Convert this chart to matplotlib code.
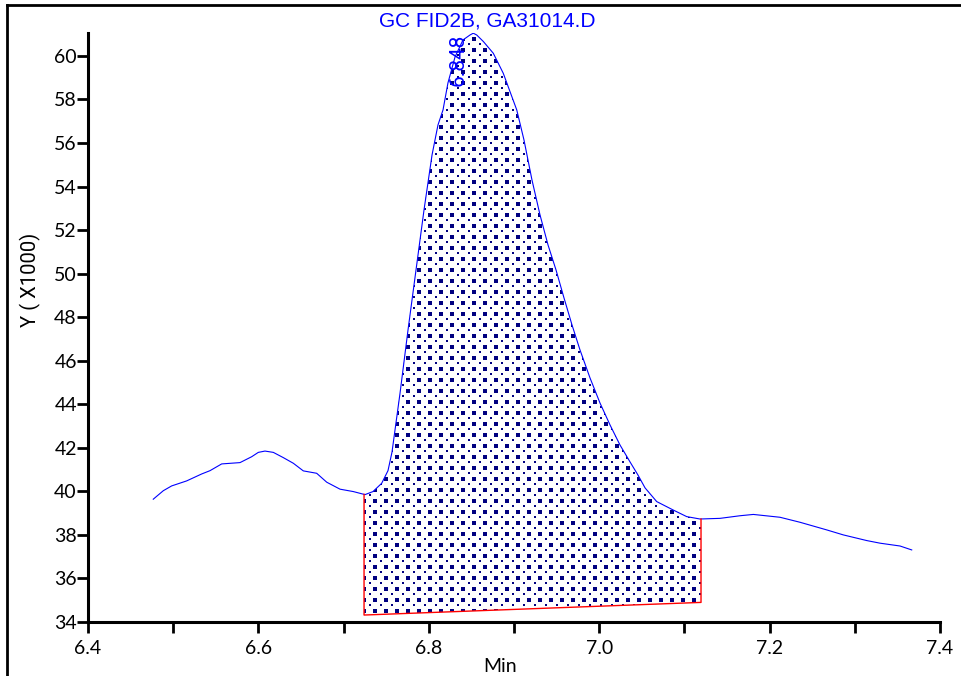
import matplotlib
matplotlib.use("Agg")
import matplotlib.pyplot as plt
from matplotlib.lines import Line2D
import numpy as np

# chromatogram trace (minutes, signal x1000)
time_min = [6.4766, 6.4884, 6.4982, 6.5158, 6.5335, 6.5432, 6.5569, 6.5784, 6.5921,
            6.5999, 6.6077, 6.6175, 6.6292, 6.6410, 6.6527, 6.6684, 6.6802, 6.6958,
            6.7114, 6.7251, 6.7345, 6.7447, 6.7521, 6.7568, 6.7662, 6.7756, 6.7850,
            6.7944, 6.8038, 6.8108, 6.8167, 6.8225, 6.8308, 6.8401, 6.8484, 6.8522,
            6.8562, 6.8640, 6.8757, 6.8874, 6.9032, 6.9117, 6.9211, 6.9305, 6.9399,
            6.9493, 6.9587, 6.9681, 6.9775, 6.9892, 7.0009, 7.0127, 7.0244, 7.0362,
            7.0455, 7.0538, 7.0675, 7.0870, 7.1027, 7.1183, 7.1418, 7.1653, 7.1809,
            7.2122, 7.2357, 7.2670, 7.2865, 7.3140, 7.3296, 7.3531, 7.3668]
signal = [39.64, 40.03, 40.25, 40.48, 40.80, 40.95, 41.26, 41.32, 41.59,
          41.79, 41.85, 41.79, 41.55, 41.29, 40.94, 40.83, 40.42, 40.10,
          39.99, 39.85, 39.99, 40.37, 40.95, 41.80, 44.50, 47.41, 50.17,
          52.93, 55.45, 56.83, 57.52, 58.76, 59.95, 60.73, 60.96, 61.04,
          60.96, 60.66, 60.12, 59.20, 57.52, 56.14, 54.30, 52.70, 51.32,
          50.17, 48.88, 47.64, 46.49, 45.21, 44.06, 43.05, 42.13, 41.35,
          40.75, 40.16, 39.53, 39.14, 38.84, 38.73, 38.76, 38.88, 38.94,
          38.81, 38.58, 38.23, 38.00, 37.74, 37.62, 37.49, 37.31]

# integration window and baseline
peak_start, peak_end = 6.724, 7.1195
base_start, base_end = 34.32, 34.90
peak_rt = "6.848"
peak_rt_val = 6.848

title = "GC FID2B, GA31014.D"
plt.rcParams["font.family"] = ["Lato", "DejaVu Sans"]
label_font = ["Roboto", "DejaVu Sans"]

W, H = 961, 676
fig = plt.figure(figsize=(W / 100, H / 100), dpi=100)
ax = fig.add_axes([88 / W, 1 - 622 / H, (940 - 88) / W, (622 - 33) / H])

t = np.array(time_min)
s = np.array(signal)
ax.plot(t, s, color="#0000ff", lw=0.8)

# area under peak
inside = (t > peak_start) & (t < peak_end)
xs = np.concatenate([[peak_start], t[inside], [peak_end]])
ys = np.interp(xs, t, s)
bs = np.interp(xs, [peak_start, peak_end], [base_start, base_end])
poly = ax.fill_between(xs, bs, ys, facecolor="none", edgecolor="none")

ax.plot([peak_start, peak_start, peak_end, peak_end],
        [ys[0], base_start, base_end, ys[-1]], color="#ff0000", lw=1.0)

ax.set_xlim(6.4, 7.4)
ax.set_ylim(34, 61.05)

# dotted shading: staggered grid of small squares clipped to the area,
# snapped to pixels; big dots on even rows, small ones on odd rows
fig.canvas.draw()
inv = ax.transData.inverted()
x0, y0 = ax.transData.transform((peak_start, base_start))
x1, y1 = ax.transData.transform((peak_end, 61.1))
big, small = [], []
row = 0
for py in np.arange(np.floor(y0) - 6, y1 + 6, 5.5):
    for px in np.arange(np.floor(x0) - 11 + (5 if row % 2 else 0), x1 + 11, 11):
        if row % 2:
            small.append((np.floor(px) + 1.0, np.floor(py) + 1.0))
        else:
            big.append((np.floor(px) + 0.5, np.floor(py) + 0.5))
    row += 1
for grid, size in [(big, 4.67), (small, 2.07)]:
    pts = inv.transform(np.array(grid))
    dots = ax.scatter(pts[:, 0], pts[:, 1], marker="s", s=size, color="#000080",
                      linewidths=0, zorder=1)
    dots.set_clip_path(poly.get_paths()[0], ax.transData)

ax.text(peak_rt_val - 0.002, 61.0, peak_rt, rotation=90, ha="right", va="top",
        color="#0000ff", fontsize=15, family=label_font)

for side in ["top", "right"]:
    ax.spines[side].set_visible(False)
for side in ["left", "bottom"]:
    ax.spines[side].set_linewidth(2.2)
ax.set_xticks(np.arange(6.4, 7.41, 0.2))
ax.set_xticks(np.arange(6.5, 7.4, 0.2), minor=True)
ax.set_xticklabels([f"{v:.1f}" for v in np.arange(6.4, 7.41, 0.2)])
ax.set_yticks(np.arange(34, 61, 2))
ax.tick_params(axis="both", which="both", direction="out", width=2, length=8,
               labelsize=14)
ax.tick_params(axis="y", pad=0)
ax.tick_params(axis="x", pad=5)

fig.text(500 / W, 1 - 667 / H, "Min", ha="center", va="center", fontsize=14)
fig.text(30 / W, 1 - 280 / H, "Y ( X1000)", rotation=90, ha="center",
         va="center", fontsize=14.5, family=label_font)
fig.text(487 / W, 1 - 21 / H, title, ha="center", va="center",
         color="#0000ff", fontsize=15, family=["Liberation Sans", "DejaVu Sans"])

# outer frame
fig.add_artist(Line2D([7 / W, 7 / W], [0, 1 - 5 / H], color="black", lw=2))
fig.add_artist(Line2D([7 / W, 1], [1 - 5 / H, 1 - 5 / H], color="black", lw=2))

fig.savefig("out.png", dpi=100)
